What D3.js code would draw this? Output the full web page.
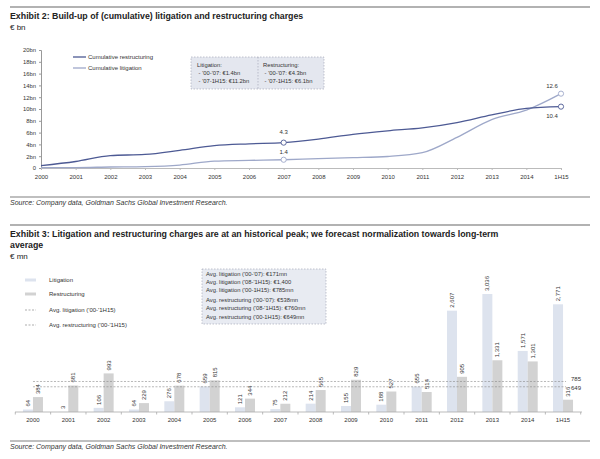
<!DOCTYPE html>
<html>
<head>
<meta charset="utf-8">
<script src="https://cdn.jsdelivr.net/npm/d3@7"></script>
<style>
  body { margin: 0; background: #fff; }
  text { font-family: "Liberation Sans", Arial, sans-serif; fill: #222; }
</style>
</head>
<body>
<div id="chart"></div>
<script>
/* Two exhibits: cumulative charges (lines) and yearly charges (bars) */

const years = ["2000", "2001", "2002", "2003", "2004", "2005", "2006", "2007",
               "2008", "2009", "2010", "2011", "2012", "2013", "2014", "1H15"];

// exhibit 2, € bn
const cumRestructuring = [0.4, 1.1, 2.1, 2.3, 3.0, 3.8, 4.1, 4.3, 4.9, 5.7, 6.3, 6.8, 7.7, 9.0, 10.1, 10.4];
const cumLitigation = [0.06, 0.07, 0.17, 0.24, 0.5, 1.17, 1.29, 1.4, 1.6, 1.75, 1.95, 2.6, 5.2, 8.2, 9.8, 12.6];
const bnTicks = [0, 2, 4, 6, 8, 10, 12, 14, 16, 18, 20];

// exhibit 3, € mn
const litigation = [64, 3, 106, 64, 276, 659, 121, 75, 214, 155, 188, 655, 2607, 3036, 1571, 2771];
const restructuring = [384, 681, 993, 229, 678, 815, 344, 212, 565, 829, 527, 514, 905, 1331, 1301, 316];
const averages = [785, 649]; // litigation, restructuring ('00-1H15)

const width = 600, height = 459;

let svg = d3.select("#chart")
    .append("svg")
    .attr("width", width)
    .attr("height", height);

// header rules and titles
function header(y, lines, unit) {
    svg.append("line")
        .attr("x1", 10).attr("x2", 590)
        .attr("y1", y).attr("y2", y)
        .attr("stroke", "#999").attr("stroke-width", 1.5);
    lines.forEach((t, i) => {
        svg.append("text")
            .attr("x", 10).attr("y", y + 12 + i * 11)
            .style("font-size", "8.8px").style("font-weight", "bold")
            .text(t);
    });
    svg.append("text")
        .attr("x", 10).attr("y", y + 13 + lines.length * 11 - 1)
        .style("font-size", "8px")
        .text(unit);
}

function source(y) {
    svg.append("line")
        .attr("x1", 10).attr("x2", 590)
        .attr("y1", y).attr("y2", y)
        .attr("stroke", "#aaa").attr("stroke-width", 1.5);
    svg.append("text")
        .attr("x", 10).attr("y", y + 8)
        .style("font-size", "7px").style("font-style", "italic")
        .style("fill", "#333")
        .text("Source: Company data, Goldman Sachs Global Investment Research.");
}

header(7, ["Exhibit 2: Build-up of (cumulative) litigation and restructuring charges"], "€ bn");
source(197);
header(225, ["Exhibit 3: Litigation and restructuring charges are at an historical peak; we forecast normalization towards long-term",
             "average"], "€ mn");
source(441);

/* ---------- Exhibit 2 : lines ---------- */
const restColor = "#4d5a94", litColor = "#9ea8c9";

let x1 = d3.scalePoint()
    .domain(years)
    .range([41, 561]);

let y1 = d3.scaleLinear()
    .domain([0, 20])
    .range([168, 50]);

svg.append("g")
    .attr("transform", "translate(41,0)")
    .call(d3.axisLeft(y1).tickValues(bnTicks).tickSize(2).tickPadding(3)
        .tickFormat(d => d === 0 ? "0" : d + "bn"))
    .call(g => g.selectAll("text").style("font-size", "5.8px").style("fill", "#333"))
    .call(g => g.selectAll("line, path").attr("stroke", "#999"));

svg.append("g")
    .attr("transform", "translate(0,168)")
    .call(d3.axisBottom(x1).tickSize(2).tickPadding(5).tickSizeOuter(0))
    .call(g => g.selectAll("text").style("font-size", "6px").style("fill", "#333"))
    .call(g => g.selectAll("line, path").attr("stroke", "#bbb"));

let line = (vals) => d3.line()
    .x((d, i) => x1(years[i]))
    .y(d => y1(d))
    .curve(d3.curveMonotoneX)(vals);

svg.append("path").attr("d", line(cumLitigation))
    .attr("fill", "none").attr("stroke", litColor).attr("stroke-width", 1.3);
svg.append("path").attr("d", line(cumRestructuring))
    .attr("fill", "none").attr("stroke", restColor).attr("stroke-width", 1.3);

// marked points with labels
const marks = [
    { s: cumRestructuring, i: 7, c: restColor, dy: -9 },
    { s: cumLitigation, i: 7, c: litColor, dy: -6 },
    { s: cumRestructuring, i: 15, c: restColor, dy: 11, dx: -9 },
    { s: cumLitigation, i: 15, c: litColor, dy: -6, dx: -9 }
];
marks.forEach(m => {
    let cx = x1(years[m.i]), cy = y1(m.s[m.i]);
    svg.append("circle")
        .attr("cx", cx).attr("cy", cy).attr("r", 2.6)
        .attr("fill", "#fff").attr("stroke", m.c).attr("stroke-width", 0.9);
    svg.append("text")
        .attr("x", cx + (m.dx || 0)).attr("y", cy + m.dy)
        .attr("text-anchor", "middle")
        .style("font-size", "6px").style("fill", "#333")
        .text(m.s[m.i].toFixed(1));
});

// legend
[["Cumulative restructuring", restColor, 57], ["Cumulative litigation", litColor, 68]].forEach(l => {
    svg.append("line").attr("x1", 73).attr("x2", 86).attr("y1", l[2]).attr("y2", l[2])
        .attr("stroke", l[1]).attr("stroke-width", 1.3);
    svg.append("text").attr("x", 88).attr("y", l[2] + 2)
        .style("font-size", "6px").style("fill", "#333").text(l[0]);
});

// annotation box
svg.append("rect")
    .attr("x", 191).attr("y", 57).attr("width", 133).attr("height", 32)
    .attr("fill", "#e4e7ef").attr("stroke", "#9aa0b0")
    .attr("stroke-width", 0.6).attr("stroke-dasharray", "1.5,1.5");
svg.append("line")
    .attr("x1", 258).attr("x2", 258).attr("y1", 57).attr("y2", 89)
    .attr("stroke", "#9aa0b0").attr("stroke-width", 0.6).attr("stroke-dasharray", "1.5,1.5");
[[197, ["Litigation:", " - '00-'07: €1.4bn", " - '07-1H15: €11.2bn"]],
 [263, ["Restructuring:", " - '00-'07: €4.3bn", " - '07-1H15: €6.1bn"]]].forEach(b => {
    b[1].forEach((t, i) => {
        svg.append("text").attr("x", b[0]).attr("y", 67 + i * 7.8)
            .attr("xml:space", "preserve")
            .style("font-size", "5.8px").style("fill", "#333").text(t);
    });
});

/* ---------- Exhibit 3 : bars ---------- */
const litBar = "#dde3ee", resBar = "#d2d2d2";

let x2 = d3.scaleBand()
    .domain(years)
    .range([15.3, 580.7]);

let xi = d3.scaleBand()
    .domain(["lit", "res"])
    .range([x2.bandwidth() / 2 - 10, x2.bandwidth() / 2 + 10]);

let y2 = d3.scaleLinear()
    .domain([0, 3036])
    .range([412, 294]);

let groups = svg.selectAll(".yr")
    .data(years)
    .join("g")
    .attr("class", "yr")
    .attr("transform", d => `translate(${x2(d)},0)`);

const series = [["lit", litigation, litBar], ["res", restructuring, resBar]];
series.forEach(s => {
    groups.append("rect")
        .attr("x", xi(s[0]))
        .attr("width", xi.bandwidth())
        .attr("y", (d, i) => y2(s[1][i]))
        .attr("height", (d, i) => y2(0) - y2(s[1][i]))
        .attr("fill", s[2]);
    groups.append("text")
        .attr("transform", (d, i) =>
            `translate(${xi(s[0]) + xi.bandwidth() / 2},${y2(s[1][i]) - 3}) rotate(-90)`)
        .attr("dy", "0.35em")
        .style("font-size", "6px").style("fill", "#333")
        .text((d, i) => d3.format(",")(s[1][i]));
});

// axis
svg.append("line")
    .attr("x1", 15).attr("x2", 582).attr("y1", 412).attr("y2", 412)
    .attr("stroke", "#aaa").attr("stroke-width", 0.8);
svg.selectAll(".tk")
    .data(years.concat(["end"]))
    .join("line")
    .attr("x1", (d, i) => x2.range()[0] + i * x2.step())
    .attr("x2", (d, i) => x2.range()[0] + i * x2.step())
    .attr("y1", 412).attr("y2", 414.5)
    .attr("stroke", "#aaa").attr("stroke-width", 0.8);
svg.append("g")
    .selectAll("text")
    .data(years)
    .join("text")
    .attr("x", d => x2(d) + x2.bandwidth() / 2)
    .attr("y", 422)
    .attr("text-anchor", "middle")
    .style("font-size", "6px").style("fill", "#333")
    .text(d => d);

// average lines
averages.forEach((a, i) => {
    svg.append("line")
        .attr("x1", x2("2000") + x2.bandwidth() / 2)
        .attr("x2", x2("1H15") + x2.bandwidth() / 2 + 3)
        .attr("y1", y2(a)).attr("y2", y2(a))
        .attr("stroke", "#888").attr("stroke-width", 0.6)
        .attr("stroke-dasharray", "2,1.5");
    svg.append("text")
        .attr("x", 571).attr("y", y2(a) + (i === 0 ? 0 : 3))
        .style("font-size", "6px").style("fill", "#333")
        .text(a);
});

// legend
const leg = [
    ["Litigation", litBar, 280, null, 3],
    ["Restructuring", resBar, 294, null, 3],
    ["Avg. litigation ('00-'1H15)", "#777", 310, "2,1.5", 0.6],
    ["Avg. restructuring ('00-'1H15)", "#777", 325, "2,1.5", 0.6]
];
leg.forEach(l => {
    svg.append("line").attr("x1", 25).attr("x2", 36).attr("y1", l[2]).attr("y2", l[2])
        .attr("stroke", l[1]).attr("stroke-width", l[4])
        .attr("stroke-dasharray", l[3]);
    svg.append("text").attr("x", 49).attr("y", l[2] + 2)
        .style("font-size", "6px").style("fill", "#333").text(l[0]);
});

// averages box
svg.append("rect")
    .attr("x", 202).attr("y", 269).attr("width", 124).attr("height", 55)
    .attr("fill", "#e8ebf2").attr("stroke", "#9aa0b0")
    .attr("stroke-width", 0.6).attr("stroke-dasharray", "1.5,1.5");
const boxLines = [
    "Avg. litigation ('00-'07): €171mn",
    "Avg. litigation ('08-'1H15): €1,400",
    "Avg. litigation ('00-1H15): €785mn",
    "Avg. restructuring ('00-'07): €538mn",
    "Avg. restructuring ('08-'1H15): €760mn",
    "Avg. restructuring ('00-1H15): €649mn"
];
boxLines.forEach((t, i) => {
    svg.append("text")
        .attr("x", 206).attr("y", 276 + i * 8.2 + (i > 2 ? 1.5 : 0))
        .style("font-size", "5.8px").style("fill", "#333")
        .text(t);
});
</script>
</body>
</html>
